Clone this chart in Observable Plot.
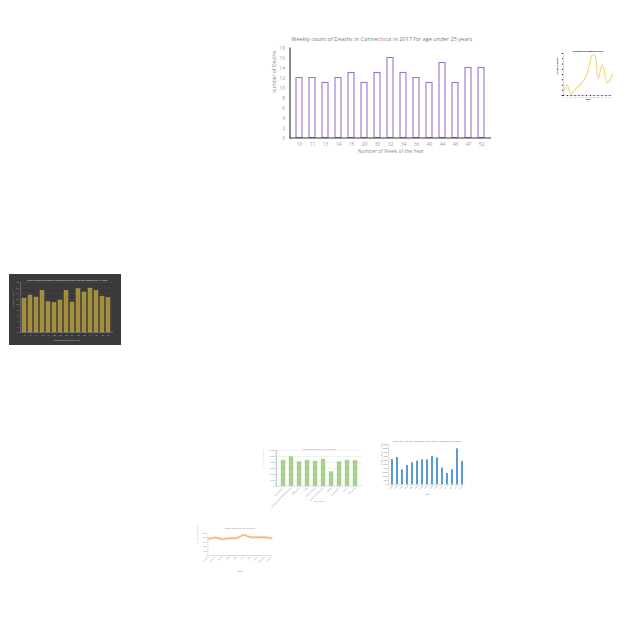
<!DOCTYPE html>
<html><head><meta charset="utf-8">
<script src="https://cdn.jsdelivr.net/npm/d3@7"></script>
<script src="https://cdn.jsdelivr.net/npm/@observablehq/plot@0.6"></script>
<style>
html,body{margin:0;padding:0;background:#fff;}
#root{position:relative;width:640px;height:640px;overflow:hidden;background:#fff;}
.cell{position:absolute;}
.cell svg{overflow:visible;display:block;}
</style></head><body><div id="root"></div>
<script>
// ---- main chart (purple outline bars) ----
const mainTitle = "Weekly count of Deaths in Connecticut in 2017 for age under 25 years";
const mainWeeks = ["10","11","13","14","15","29","30","32","34","36","40","44","46","47","52"];
const mainDeaths = [12,12,11,12,13,11,13,16,13,12,11,15,11,14,14];
const mainYTicks = [0,2,4,6,8,10,12,14,16,18];

// ---- dark thumbnail (gold bars) ----
const darkTitle = "Weekly count of Deaths in Connecticut in 2016 for age between 25-45 years";
const darkWeeks = ["2","5","8","12","17","20","23","26","31","35","38","41","45","49","51"];
const darkDeaths = [12.2,13.3,12.6,15,10.9,10.6,11.5,15,10.8,15.6,14.4,15.8,15,12.9,12.4];
const darkYTicks = [0,2,4,6,8,10,12,14,16,18];

// ---- top-right thumbnail (yellow line) ----
const lineTitle = "Evolution of deaths in 2016";
const lineWeeks = [1,4.5,9,14,19,24,27.5,31,33.7,37,41.5,46.7,52];
const lineValues = [0.6,2.0,0.3,1.3,2.2,3.5,5.4,7.7,7.6,3.2,5.9,2.4,4.0];
const lineXTicks = [1,5,9,13,17,21,25,29,33,37,41,45,49];

// ---- green thumbnail ----
const greenTitle = "Fatalities during the year 2017";
const greenCats = ["Construction","Transportation & Warehousing","Agriculture","Retail","Manufacturing","Professional Services","Mining","Government","Leisure","Wholesale"];
const greenValues = [4318,4879,4037,4318,4150,4486,2355,4037,4318,4262];

// ---- blue thumbnail ----
const blueTitle = "Fatalities - Hispanic, Non-Teen, Age: Under 25 (Numbers of Deaths)";
const blueYears = ["2000","2001","2002","2003","2004","2005","2006","2007","2008","2009","2010","2011","2012","2013","2014"];
const blueValues = [6281,6777,3719,4793,5455,5868,6198,6198,7025,6694,4132,2810,3719,8926,5785];

// ---- orange thumbnail ----
const orangeTitle = "Fatalities during the year 2017";
const orangeMonths = ["January","February","March","April","May","June","July","August","September","October"];
const orangeValues = [1866,2015,1828,1940,1940,2313,2052,2052,2052,1940];

const font = "'Open Sans', 'Liberation Sans', sans-serif";
const root = document.getElementById("root");
function place(node, left, top, w, h) {
  const d = document.createElement("div");
  d.className = "cell";
  d.style.left = left + "px"; d.style.top = top + "px";
  d.style.width = w + "px"; d.style.height = h + "px";
  d.appendChild(node);
  root.appendChild(d);
}

// MAIN
{
  const data = mainWeeks.map((w, i) => ({week: w, deaths: mainDeaths[i]}));
  const W = 240, H = 135;
  const p = Plot.plot({
    width: W, height: H,
    marginLeft: 29.5, marginRight: 9, marginTop: 19.5, marginBottom: 25.5,
    style: {fontFamily: font, fontSize: "5px", background: "transparent"},
    x: {type: "band", domain: mainWeeks, paddingInner: 0.55, paddingOuter: 0.275, label: null},
    y: {domain: [0, 18], label: null},
    marks: [
      Plot.barY(data, {x: "week", y: "deaths", fill: "white", stroke: "#9b74cf", strokeWidth: 1.1}),
      Plot.ruleY([0], {stroke: "#3a3a3a", strokeWidth: 1.2}),
      Plot.frame({anchor: "left", stroke: "#3a3a3a", strokeWidth: 1.2}),
      Plot.axisY({ticks: mainYTicks, tickSize: 0, tickPadding: 5, fill: "#a0a0a0", label: null}),
      Plot.axisX({tickSize: 0, tickPadding: 4, fill: "#a0a0a0", label: null}),
      Plot.text([mainTitle], {frameAnchor: "top", dy: -10.5, dx: -9, fill: "#7a7a7a", fontSize: 5.6}),
      Plot.text(["Number of Week of the Year"], {frameAnchor: "bottom", dy: 15, fill: "#8a8a8a", fontSize: 5}),
      Plot.text(["number of Deaths"], {frameAnchor: "left", dx: -16, rotate: -90, fill: "#8a8a8a", fontSize: 5})
    ]
  });
  place(p, 260, 28, W, H);
}

// DARK
{
  const data = darkWeeks.map((w, i) => ({week: w, deaths: darkDeaths[i]}));
  const W = 112, H = 71;
  const p = Plot.plot({
    width: W, height: H,
    marginLeft: 11, marginRight: 8, marginTop: 8, marginBottom: 13,
    style: {fontFamily: font, fontSize: "2px", background: "#3a3a3a"},
    x: {type: "band", domain: darkWeeks, paddingInner: 0.33, paddingOuter: 0.25, label: null},
    y: {domain: [0, 18], label: null},
    marks: [
      Plot.gridY({ticks: darkYTicks, stroke: "#555", strokeOpacity: 1, strokeWidth: 0.3}),
      Plot.barY(data, {x: "week", y: "deaths", fill: "#a08c3a", stroke: "#c2ad55", strokeWidth: 0.4}),
      Plot.ruleY([0], {stroke: "#8a8a8a", strokeWidth: 0.5}),
      Plot.frame({anchor: "left", stroke: "#8a8aa8", strokeWidth: 0.5}),
      Plot.axisY({ticks: darkYTicks, tickSize: 0, tickPadding: 2, fill: "#cfcfcf", label: null}),
      Plot.axisX({tickSize: 0, tickPadding: 2, fill: "#cfcfcf", label: null}),
      Plot.text([darkTitle], {frameAnchor: "top", dy: -3, fill: "#e8e8e8", fontSize: 2.3}),
      Plot.text(["Number of Week of the Year"], {frameAnchor: "bottom", dy: 8.5, fill: "#d0d0d0", fontSize: 2}),
      Plot.text(["number of Deaths"], {frameAnchor: "left", dx: -7, rotate: -90, fill: "#d0d0d0", fontSize: 2})
    ]
  });
  place(p, 9, 274, W, H);
}

// TOP-RIGHT LINE
{
  const data = lineWeeks.map((w, i) => ({week: w, v: lineValues[i]}));
  const W = 65, H = 55;
  const p = Plot.plot({
    width: W, height: H,
    marginLeft: 10, marginRight: 6, marginTop: 8, marginBottom: 5,
    style: {fontFamily: font, fontSize: "1.6px", background: "white"},
    x: {domain: [1, 52], label: null},
    y: {domain: [0, 8], label: null},
    marks: [
      Plot.ruleY([0], {stroke: "#999", strokeWidth: 0.4}),
      Plot.frame({anchor: "left", stroke: "#999", strokeWidth: 0.4}),
      Plot.line(data, {x: "week", y: "v", stroke: "#f4d275", strokeWidth: 1.1, curve: "catmull-rom"}),
      Plot.axisY({ticks: [0,1,2,3,4,5,6,7,8], tickSize: 0.8, tickPadding: 0.8, fill: "#444", label: null}),
      Plot.axisX({ticks: lineXTicks, tickSize: 0.8, tickPadding: 0.6, fill: "#444", label: null}),
      Plot.text([lineTitle], {frameAnchor: "top", dy: -3, fill: "#111", fontSize: 2.3, fontWeight: "bold"}),
      Plot.text(["Week"], {frameAnchor: "bottom", dy: 4.3, fill: "#111", fontSize: 1.8, fontWeight: "bold"}),
      Plot.text(["Number of deaths"], {frameAnchor: "left", dx: -6, rotate: -90, fill: "#111", fontSize: 1.8, fontWeight: "bold"})
    ]
  });
  place(p, 553, 45, W, H);
}

// GREEN
{
  const data = greenCats.map((c, i) => ({cat: c, v: greenValues[i]}));
  const W = 110, H = 65;
  const p = Plot.plot({
    width: W, height: H,
    marginLeft: 17.7, marginRight: 6, marginTop: 9, marginBottom: 20.3,
    style: {fontFamily: font, fontSize: "2px", background: "transparent"},
    x: {type: "band", domain: greenCats, paddingInner: 0.45, paddingOuter: 0.1, label: null},
    y: {domain: [0, 6000], label: null},
    marks: [
      Plot.gridY({ticks: [1000,2000,3000,4000,5000,6000], stroke: "#ddd", strokeOpacity: 1, strokeWidth: 0.4}),
      Plot.barY(data, {x: "cat", y: "v", fill: "#a9d18e", stroke: "#8dbb70", strokeWidth: 0.3}),
      Plot.ruleY([0], {stroke: "#aaa", strokeWidth: 0.4}),
      Plot.frame({anchor: "left", stroke: "#777", strokeWidth: 0.5}),
      Plot.axisY({ticks: [0,1000,2000,3000,4000,5000,6000], tickSize: 0, tickPadding: 1.5, fill: "#888", label: null}),
      Plot.axisX({tickSize: 0, tickPadding: 1, tickRotate: -45, fill: "#888", label: null}),
      Plot.text([greenTitle], {frameAnchor: "top", dy: -2.7, fill: "#888", fontSize: 2.4}),
      Plot.text(["Occupation"], {frameAnchor: "bottom", dy: 16, fill: "#999", fontSize: 2}),
      Plot.text(["Number of Fatalities"], {frameAnchor: "left", dx: -13, rotate: -90, fill: "#999", fontSize: 2})
    ]
  });
  place(p, 258, 441, W, H);
}

// BLUE
{
  const data = blueYears.map((y, i) => ({year: y, v: blueValues[i]}));
  const W = 95, H = 65;
  const p = Plot.plot({
    width: W, height: H,
    marginLeft: 10, marginRight: 8, marginTop: 11, marginBottom: 13.7,
    style: {fontFamily: font, fontSize: "1.8px", background: "transparent"},
    x: {type: "band", domain: blueYears, paddingInner: 0.65, paddingOuter: 0.2, label: null},
    y: {domain: [0, 10000], label: null},
    marks: [
      Plot.barY(data, {x: "year", y: "v", fill: "#5b9bd5"}),
      Plot.ruleY([0], {stroke: "#aaa", strokeWidth: 0.4}),
      Plot.frame({anchor: "left", stroke: "#aaa", strokeWidth: 0.4}),
      Plot.axisY({ticks: d3.range(0, 10001, 1000), tickSize: 0, tickPadding: 1.2, fill: "#666", label: null}),
      Plot.axisX({tickSize: 0, tickPadding: 1, tickRotate: -45, fill: "#666", label: null}),
      Plot.text([blueTitle], {frameAnchor: "top", dy: -4, fill: "#666", fontSize: 2.2}),
      Plot.text(["Year"], {frameAnchor: "bottom", dy: 9.7, fill: "#666", fontSize: 2}),
      Plot.text(["Total Number of Deaths"], {frameAnchor: "left", dx: -7.5, rotate: -90, fill: "#666", fontSize: 2})
    ]
  });
  place(p, 378, 433, W, H);
}

// ORANGE
{
  const data = orangeMonths.map((m, i) => ({m, v: orangeValues[i]}));
  const W = 85, H = 56;
  const p = Plot.plot({
    width: W, height: H,
    marginLeft: 14.3, marginRight: 6.3, marginTop: 10.7, marginBottom: 23,
    style: {fontFamily: font, fontSize: "1.8px", background: "transparent"},
    x: {type: "point", domain: orangeMonths, padding: 0.1, label: null},
    y: {domain: [0, 2500], label: null},
    marks: [
      Plot.ruleY([0], {stroke: "#aaa", strokeWidth: 0.4}),
      Plot.frame({anchor: "left", stroke: "#bbb", strokeWidth: 0.4}),
      Plot.line(data, {x: "m", y: "v", stroke: "#f4b183", strokeWidth: 3, strokeOpacity: 0.35}),
      Plot.line(data, {x: "m", y: "v", stroke: "#e8863a", strokeWidth: 0.7}),
      Plot.axisY({ticks: [0,500,1000,1500,2000,2500], tickSize: 0, tickPadding: 1.2, fill: "#888", label: null}),
      Plot.axisX({tickSize: 0, tickPadding: 1, tickRotate: -45, fill: "#888", label: null}),
      Plot.text([orangeTitle], {frameAnchor: "top", dy: -5.4, fill: "#777", fontSize: 2.2}),
      Plot.text(["Month"], {frameAnchor: "bottom", dy: 16.7, fill: "#888", fontSize: 2}),
      Plot.text(["Number of Fatalities"], {frameAnchor: "left", dx: -10, rotate: -90, fill: "#888", fontSize: 2})
    ]
  });
  place(p, 193, 522, W, H);
}
</script>
</body></html>
